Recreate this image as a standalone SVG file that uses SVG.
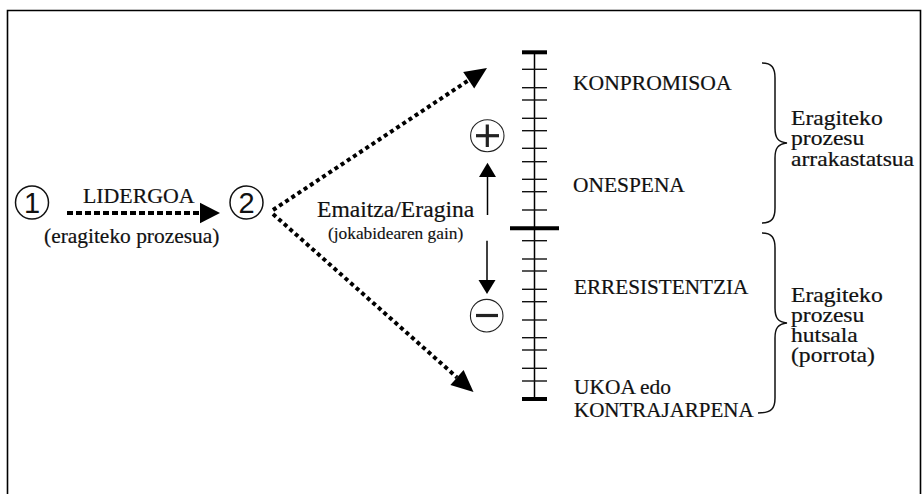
<svg xmlns="http://www.w3.org/2000/svg" width="923" height="494" viewBox="0 0 923 494">
<style>
.lbl{font-family:'Liberation Serif','Times New Roman',serif;font-size:21px;fill:#111;stroke:#111;stroke-width:0.2;}
.side{font-family:'Liberation Serif','Times New Roman',serif;font-size:20px;fill:#111;stroke:#111;stroke-width:0.2;}
.big{font-family:'Liberation Serif','Times New Roman',serif;font-size:22.5px;fill:#111;stroke:#111;stroke-width:0.2;}
.small{font-family:'Liberation Serif','Times New Roman',serif;font-size:17px;fill:#111;stroke:#111;stroke-width:0.15;}
.digit{font-family:'Liberation Sans',Arial,sans-serif;font-size:29px;fill:#111;text-anchor:middle;}
.ring{fill:none;stroke:#111;stroke-width:1.5;}
.thin{fill:none;stroke:#222;stroke-width:1.1;}
.dot{fill:none;stroke:#000;stroke-width:4;stroke-dasharray:4 3.4;}
.dash{fill:none;stroke:#000;stroke-width:4.2;stroke-dasharray:6 3;}
.ln{fill:none;stroke:#000;stroke-width:1.5;}
.bar{stroke:#000;stroke-width:4;}
.tick{stroke:#111;stroke-width:1.4;}
.brace{fill:none;stroke:#111;stroke-width:1.5;}
.head{fill:#000;}
</style>
<path d="M7.5,494 V10.5 H920.5 V494" fill="none" stroke="#000" stroke-width="1.6"/>

<g id="node1">
<circle class="ring" cx="32" cy="202.5" r="16.5"/>
<text class="digit" x="32" y="213">1</text>
</g>
<g id="node2">
<circle class="ring" cx="246.5" cy="202.5" r="16.5"/>
<text class="digit" x="246.5" y="213">2</text>
</g>

<g id="connectors">
<line class="dash" x1="67" y1="213" x2="200" y2="213"/>
<polygon class="head" points="200,202.7 220,213 200,223.3"/>
<line class="dot" x1="273" y1="210" x2="468.7" y2="80.2"/>
<polygon class="head" points="487,68 463.2,71.9 474.2,88.5"/>
<line class="dot" x1="273" y1="214" x2="457" y2="377.4"/>
<polygon class="head" points="473.5,392 450.4,384.9 463.6,369.9"/>
<line class="ln" x1="487.5" y1="215" x2="487.5" y2="176"/>
<polygon class="head" points="487.5,162.7 479,177 496,177"/>
<line class="ln" x1="487" y1="240.7" x2="487" y2="281"/>
<polygon class="head" points="487,294 478.5,280 495.5,280"/>
</g>

<g id="labels">
<text class="lbl" transform="translate(83,203) scale(1.04,1)">LIDERGOA</text>
<text class="lbl" transform="translate(44,243) scale(1.02,1)">(eragiteko prozesua)</text>
<text class="big" transform="translate(317,216.5) scale(1.05,1)">Emaitza/Eragina</text>
<text class="small" transform="translate(328,238.5) scale(1.02,1)">(jokabidearen gain)</text>
</g>

<g id="plus">
<ellipse class="thin" cx="487.3" cy="135.7" rx="16.7" ry="16"/>
<line x1="476" y1="135.7" x2="499" y2="135.7" stroke="#222" stroke-width="3.2"/>
<line x1="487.3" y1="124.5" x2="487.3" y2="147" stroke="#222" stroke-width="3.2"/>
</g>
<g id="minus">
<circle class="thin" cx="486.7" cy="315.7" r="16.3"/>
<line x1="476" y1="315.5" x2="498" y2="315.5" stroke="#222" stroke-width="3.2"/>
</g>

<g id="scale">
<line class="ln" x1="534.5" y1="52" x2="534.5" y2="399"/>
<line class="bar" x1="522" y1="52.3" x2="547" y2="52.3"/>
<line class="bar" x1="510" y1="228.3" x2="559" y2="228.3" stroke-width="4.5"/>
<line class="bar" x1="522" y1="399" x2="547" y2="399"/>
<g class="tick">
<line x1="522" y1="69.3" x2="547" y2="69.3"/>
<line x1="522" y1="87.7" x2="547" y2="87.7"/>
<line x1="522" y1="100" x2="547" y2="100"/>
<line x1="522" y1="118.3" x2="547" y2="118.3"/>
<line x1="522" y1="130.7" x2="547" y2="130.7"/>
<line x1="522" y1="148.3" x2="547" y2="148.3"/>
<line x1="522" y1="161.7" x2="547" y2="161.7"/>
<line x1="522" y1="179.3" x2="547" y2="179.3"/>
<line x1="522" y1="191.7" x2="547" y2="191.7"/>
<line x1="522" y1="210" x2="547" y2="210"/>
<line x1="522" y1="240.7" x2="547" y2="240.7"/>
<line x1="522" y1="259" x2="547" y2="259"/>
<line x1="522" y1="271" x2="547" y2="271"/>
<line x1="522" y1="289.3" x2="547" y2="289.3"/>
<line x1="522" y1="301.7" x2="547" y2="301.7"/>
<line x1="522" y1="320" x2="547" y2="320"/>
<line x1="522" y1="337.7" x2="547" y2="337.7"/>
<line x1="522" y1="350" x2="547" y2="350"/>
<line x1="522" y1="368.3" x2="547" y2="368.3"/>
<line x1="522" y1="381" x2="547" y2="381"/>
</g>
</g>

<g id="levels">
<text class="lbl" transform="translate(573,90) scale(1.03,1)">KONPROMISOA</text>
<text class="lbl" transform="translate(573,191.5) scale(1.02,1)">ONESPENA</text>
<text class="lbl" transform="translate(574,293.5) scale(1.01,1)">ERRESISTENTZIA</text>
<text class="lbl" transform="translate(574,393.5) scale(1.02,1)">UKOA edo</text>
<text class="lbl" transform="translate(574,416.5) scale(1.0,1)">KONTRAJARPENA</text>
</g>

<g id="success">
<path class="brace" d="M762,63 C772,63 775,68 775,78 L775,128 C775,138 778,142 787,143 C778,144 775,148 775,158 L775,208 C775,218 772,223 762,223"/>
<g transform="translate(791,0) scale(1.18,1)">
<text class="side" x="0" y="125">Eragiteko</text>
<text class="side" x="0" y="145.5">prozesu</text>
<text class="side" x="0" y="166">arrakastatsua</text>
</g>
</g>
<g id="failure">
<path class="brace" d="M762,233 C772,233 775,238 775,248 L775,308 C775,318 778,322 787,323 C778,324 775,328 775,338 L775,398 C775,408 772,413 758,413"/>
<g transform="translate(791,0) scale(1.18,1)">
<text class="side" x="0" y="302">Eragiteko</text>
<text class="side" x="0" y="322">prozesu</text>
<text class="side" x="0" y="342">hutsala</text>
<text class="side" x="0" y="362">(porrota)</text>
</g>
</g>
</svg>
